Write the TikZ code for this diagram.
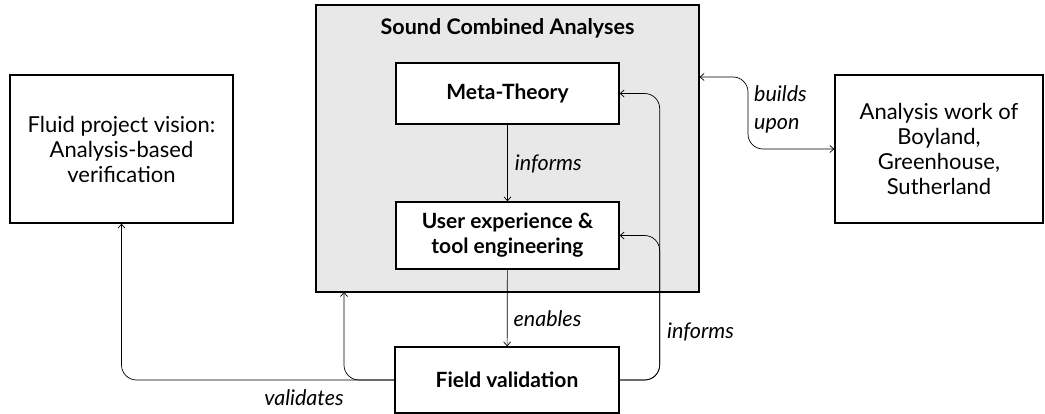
\documentclass[tikz,border=0pt]{standalone}
\usepackage{fontspec}
\setmainfont{Lato}
\usetikzlibrary{arrows.meta,calc}
\begin{document}
\begin{tikzpicture}[x=1pt,y=-1pt,
  box/.style={draw,line width=1.3pt,fill=white,inner sep=0pt,align=center,font=\fontsize{22}{25}\selectfont},
  bbox/.style={box,font=\fontsize{21}{25}\selectfont\bfseries},
  conn/.style={line width=0.7pt,-{Straight Barb[length=4pt,width=7pt]},rounded corners=15pt},
  lbl/.style={font=\fontsize{21.5}{25}\selectfont\itshape,inner sep=0pt}]
\useasboundingbox (0,0) rectangle (1045,414);
\node[draw,line width=1.3pt,fill={rgb,255:red,232;green,232;blue,232},minimum width=383pt,minimum height=287pt,inner sep=0pt] (sca) at (507.5,148.5) {};
\node[font=\fontsize{21.5}{25}\selectfont\bfseries,inner sep=0pt] (title) at (507.5,28) {Sound Combined Analyses};
\node[bbox,minimum width=223pt,minimum height=61pt] (meta) at (507.5,93.5) {Meta-Theory};
\node[bbox,minimum width=223pt,minimum height=67pt] (user) at (507.5,235.5) {User experience \&\\tool engineering};
\node[bbox,minimum width=224pt,minimum height=66pt] (field) at (507,380) {Field validation};
\node[box,minimum width=223pt,minimum height=148pt] (fluid) at (121.5,149) {Fluid project vision:\\Analysis-based\\verification};
\node[box,minimum width=208pt,minimum height=148pt] (work) at (939,149) {Analysis work of\\Boyland,\\Greenhouse,\\Sutherland};
\coordinate (scain) at (344,292);
\coordinate (bu) at (699.6,77);
\coordinate (bumid) at (748,113);
\draw[conn] (meta) -- node[lbl,anchor=west,xshift=7pt,yshift=-1pt]{informs} (user);
\draw[conn] (user) -- node[lbl,anchor=west,xshift=6pt,yshift=-11pt]{enables} (field);
\draw[conn] (field.west) -| (fluid.south);
\draw[conn] (field.west) -| (scain);
\draw[conn] (field.east) -- ++(40,0) |- (user.east);
\draw[conn] (field.east) -- ++(40,0) |- (meta.east);
\draw[conn,{Straight Barb[length=4pt,width=7pt]}-{Straight Barb[length=4pt,width=7pt]}] (bu) -| (bumid) |- (work.west);
\node[lbl,anchor=west] (infr) at (667,332) {informs};
\node[lbl] (val) at (304,398) {validates};
\node[lbl,align=left,anchor=west,font=\fontsize{21.5}{28}\selectfont\itshape] (bul) at (754,109) {builds\\upon};
\end{tikzpicture}
\end{document}
